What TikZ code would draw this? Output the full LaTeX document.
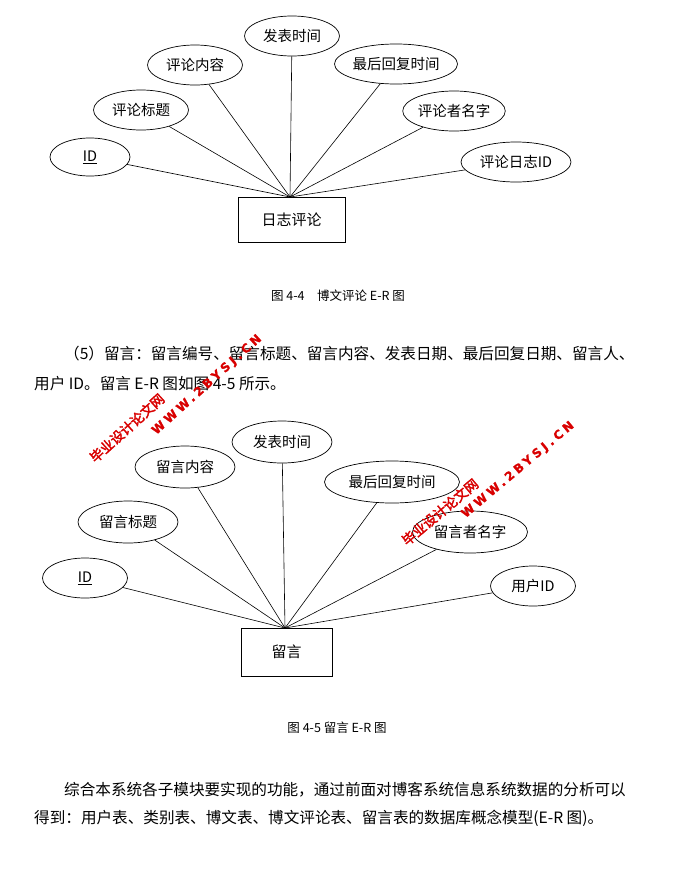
\documentclass[tikz,border=0pt]{standalone}
\usepackage{fontspec}
\newfontfamily\cjk{Noto Sans CJK SC}
\newfontfamily\cjkb{Noto Sans CJK SC}[FakeBold=2.5]
\newfontfamily\wmlat{DejaVu Sans}[FakeBold=1.5,LetterSpace=28]
\usetikzlibrary{shapes.geometric}
\begin{document}
\begin{tikzpicture}[x=1pt,y=-1pt,
  attr/.style={draw,ellipse,line width=0.7pt,inner sep=0pt,font=\cjk\fontsize{14.5}{14}\selectfont},
  ent/.style={draw,rectangle,line width=0.7pt,font=\cjk\fontsize{15}{15}\selectfont},
  lk/.style={line width=0.6pt},
  body/.style={anchor=west,inner sep=0pt,font=\cjk\fontsize{15.6}{16}\selectfont},
  wm/.style={text=red!85!black,inner sep=0pt,font=\cjkb\fontsize{13.5}{14}\selectfont},
  wml/.style={text=red!85!black,inner sep=0pt,font=\wmlat\bfseries\fontsize{12}{12}\selectfont}]
\useasboundingbox (0,0) rectangle (676,886);
\fill[white] (0,0) rectangle (676,886);
% diagram 1
\node[ent,minimum width=107pt,minimum height=45pt] (e1) at (291.5,219.5) {日志评论};
\coordinate (c1) at (290,197);
\node[attr,minimum width=80pt,minimum height=38pt] (a1) at (90,157) {\underline{ID}};
\node[attr,minimum width=95pt,minimum height=40pt] (a2) at (141,110) {评论标题};
\node[attr,minimum width=95pt,minimum height=40pt] (a3) at (195,65) {评论内容};
\node[attr,minimum width=95pt,minimum height=40pt] (a4) at (292,36) {发表时间};
\node[attr,minimum width=115pt,minimum height=40pt] (a5) at (396,64) {最后回复时间};
\node[attr,minimum width=100pt,minimum height=40pt] (a6) at (454,111) {评论者名字};
\node[attr,minimum width=110pt,minimum height=40pt] (a7) at (516,162) {评论日志ID};
\foreach \a in {a1,a2,a3,a4,a5,a6,a7} \draw[lk] (\a) -- (c1);
\node[inner sep=0pt,font=\cjk\fontsize{12.5}{12}\selectfont] (cap1) at (338,296) {图 4-4\quad 博文评论 E-R 图};
\node[body] (p1) at (64,354) {（5）留言：留言编号、留言标题、留言内容、发表日期、最后回复日期、留言人、};
\node[body] (p2) at (34,384) {用户 ID。留言 E-R 图如图 4-5 所示。};
% diagram 2
\node[ent,minimum width=91pt,minimum height=48pt] (e2) at (286.5,652) {留言};
\coordinate (c2) at (285,628);
\node[attr,minimum width=85pt,minimum height=40pt] (b1) at (85,578) {\underline{ID}};
\node[attr,minimum width=100pt,minimum height=42pt] (b2) at (128,522) {留言标题};
\node[attr,minimum width=100pt,minimum height=42pt] (b3) at (185,467) {留言内容};
\node[attr,minimum width=100pt,minimum height=42pt] (b4) at (282,442) {发表时间};
\node[attr,minimum width=135pt,minimum height=42pt] (b5) at (392,482) {最后回复时间};
\node[attr,minimum width=115pt,minimum height=42pt] (b6) at (470,532) {留言者名字};
\node[attr,minimum width=85pt,minimum height=40pt] (b7) at (533,586) {用户ID};
\foreach \b in {b1,b2,b3,b4,b5,b6,b7} \draw[lk] (\b) -- (c2);
\node[inner sep=0pt,font=\cjk\fontsize{12.5}{12}\selectfont] (cap2) at (337,728) {图 4-5 留言 E-R 图};
\node[body] (p3) at (64,790) {综合本系统各子模块要实现的功能，通过前面对博客系统信息系统数据的分析可以};
\node[body] (p4) at (34,818) {得到：用户表、类别表、博文表、博文评论表、留言表的数据库概念模型(E-R 图)。};
% watermarks
\node[wm,rotate=42] (w1) at (127,428) {毕业设计论文网};
\node[wml,rotate=42] (w2) at (207,385) {WWW.2BYSJ.CN};
\node[wm,rotate=40] (w3) at (440,512) {毕业设计论文网};
\node[wml,rotate=40] (w4) at (518,470) {WWW.2BYSJ.CN};
\end{tikzpicture}
\end{document}
